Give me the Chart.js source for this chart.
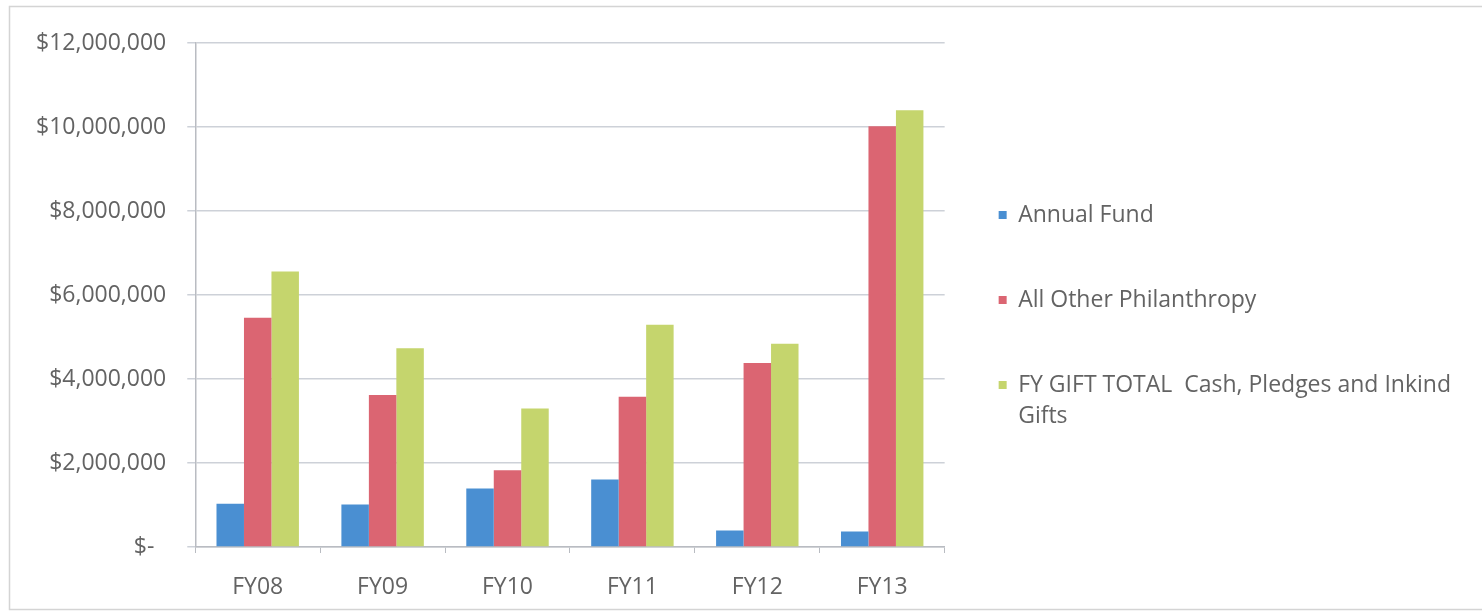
<!DOCTYPE html>
<html>
<head>
<meta charset="utf-8">
<title>Gift totals FY08–FY13</title>
<script src="https://cdn.jsdelivr.net/npm/chart.js@4.4.1/dist/chart.umd.min.js"></script>
<style>
  html, body { margin: 0; padding: 0; background: #ffffff; }
  canvas { display: block; }
</style>
</head>
<body>
<canvas id="gifts" width="1482" height="616"></canvas>
<script>
// Fiscal years on the category axis
const years = ['FY08', 'FY09', 'FY10', 'FY11', 'FY12', 'FY13'];

// Dollars raised per fiscal year
const annualFund = [1030000, 1010000, 1390000, 1610000, 390000, 370000];
const otherPhilanthropy = [5460000, 3620000, 1830000, 3580000, 4380000, 10020000];
const giftTotal = [6560000, 4730000, 3300000, 5290000, 4840000, 10400000];

// Series names (the last one wraps onto two lines in the legend)
const seriesNames = [
  ['Annual Fund'],
  ['All Other Philanthropy'],
  ['FY GIFT TOTAL  Cash, Pledges and Inkind', 'Gifts']
];

// Value axis labels, bottom to top
const yTickLabels = ['$-', '$2,000,000', '$4,000,000', '$6,000,000', '$8,000,000', '$10,000,000', '$12,000,000'];

const seriesColors = ['#4a8fd2', '#db6572', '#c5d56d'];
const textColor = '#636363';
const gridColor = '#cdd1d8';
const axisColor = '#b9bcc2';
const fontFamily = '"Open Sans", sans-serif';
const tickFont = { family: fontFamily, size: 23, lineHeight: 1 };

// White page with a thin frame around the chart
const framePlugin = {
  id: 'frame',
  beforeDraw(chart) {
    const { ctx, width, height } = chart;
    ctx.save();
    ctx.fillStyle = '#ffffff';
    ctx.fillRect(0, 0, width, height);
    ctx.strokeStyle = '#d4d4d4';
    ctx.lineWidth = 1.5;
    ctx.strokeRect(9.5, 6.5, width + 10, height - 13);
    ctx.restore();
  }
};

// Moves the legend block vertically after layout
const legendShift = {
  id: 'legendShift',
  afterLayout(chart, args, opts) {
    const legend = chart.legend;
    if (!legend) return;
    legend.top += opts.dy;
    legend.bottom += opts.dy;
  }
};

new Chart(document.getElementById('gifts'), {
  type: 'bar',
  data: {
    labels: years,
    datasets: [
      { label: seriesNames[0], data: annualFund, backgroundColor: seriesColors[0] },
      { label: seriesNames[1], data: otherPhilanthropy, backgroundColor: seriesColors[1] },
      { label: seriesNames[2], data: giftTotal, backgroundColor: seriesColors[2] }
    ]
  },
  options: {
    responsive: false,
    animation: false,
    devicePixelRatio: 1,
    layout: { padding: { left: 15, top: 43, right: 21, bottom: -6 } },
    datasets: {
      bar: { categoryPercentage: 0.66, barPercentage: 1.0, borderWidth: 0 }
    },
    scales: {
      x: {
        grid: {
          display: true,
          drawOnChartArea: false,
          drawTicks: true,
          tickLength: 6,
          color: axisColor,
          offset: true
        },
        border: { display: true, color: axisColor, width: 1.5 },
        ticks: { color: textColor, font: tickFont, padding: 23 }
      },
      y: {
        min: 0,
        max: 12000000,
        ticks: {
          stepSize: 2000000,
          color: textColor,
          font: tickFont,
          padding: 21,
          callback: (value, index) => index === 0 ? yTickLabels[index] + '  ' : yTickLabels[index]
        },
        grid: { color: gridColor, lineWidth: 1.5, tickLength: 8, drawTicks: true },
        border: { display: true, color: axisColor, width: 1.5 }
      }
    },
    plugins: {
      legend: {
        position: 'right',
        align: 'center',
        maxWidth: 640,
        labels: {
          boxWidth: 8,
          boxHeight: 8,
          padding: 54,
          color: textColor,
          font: { family: fontFamily, size: 23, lineHeight: 1.348 }
        }
      },
      legendShift: { dy: -13 },
      tooltip: { enabled: false }
    }
  },
  plugins: [framePlugin, legendShift]
});
</script>
</body>
</html>
